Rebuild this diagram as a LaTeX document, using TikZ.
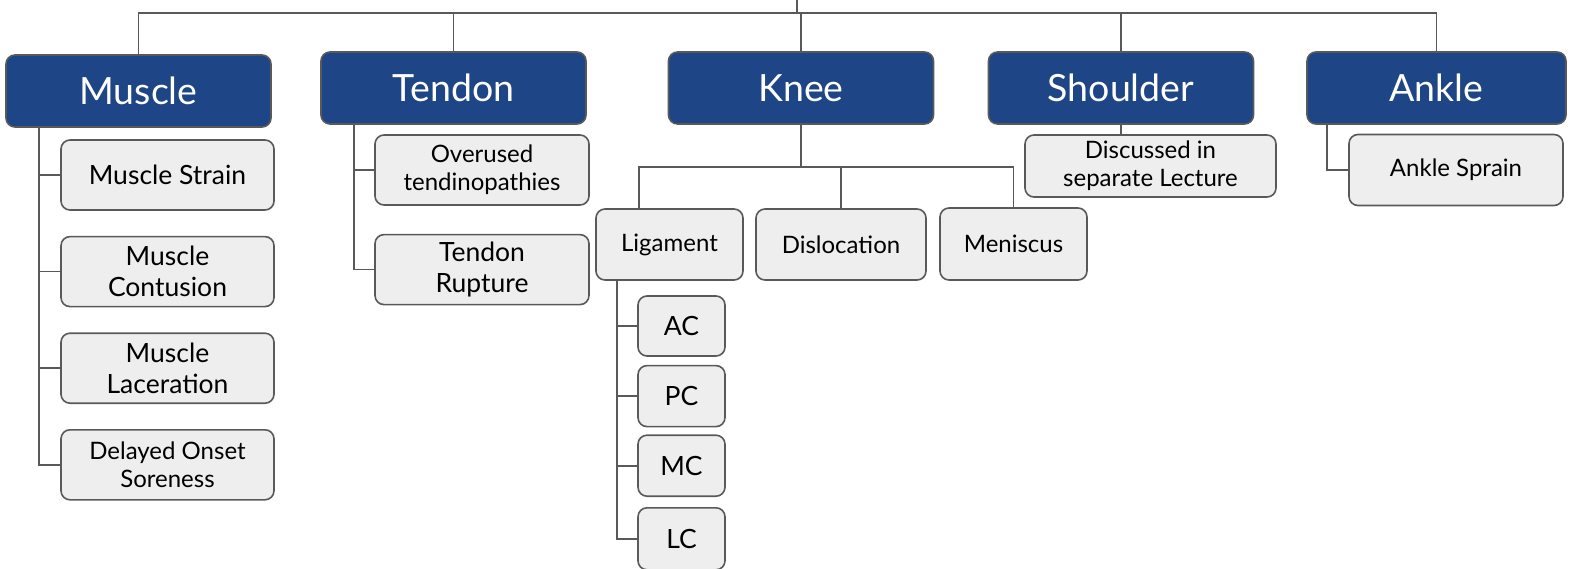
\documentclass[tikz,border=0pt]{standalone}
\usepackage{fontspec}
\setmainfont{Lato}
\usepackage{tikz}
\usetikzlibrary{calc,positioning}

\definecolor{hdrblue}{HTML}{1E4586}
\definecolor{boxgray}{HTML}{EEEEEE}
\definecolor{linegray}{HTML}{595959}

\begin{document}
\begin{tikzpicture}[x=1pt,y=-1pt,
  cat/.style={draw=linegray,line width=1.6pt,fill=hdrblue,rounded corners=9pt,text=white,
    minimum width=265pt,minimum height=72pt,inner sep=0pt,font=\fontsize{37.5}{40}\selectfont},
  item/.style={draw=linegray,line width=1.6pt,fill=boxgray,rounded corners=9pt,align=center,
    minimum width=213pt,minimum height=70pt,inner sep=0pt,font=\fontsize{26.5}{31}\selectfont},
  small/.style={font=\fontsize{24}{28}\selectfont},
  link/.style={draw=linegray,line width=1.6pt}]
	\useasboundingbox (0,0) rectangle (1571,568);
	% top level
	\node[cat] (muscle) at (138.5,91) {Muscle};
	\node[cat] (tendon) at (453.5,88) {Tendon};
	\node[cat] (knee) at (801,88) {Knee};
	\node[cat] (shoulder) at (1121,88) {Shoulder};
	\node[cat,minimum width=259pt] (ankle) at (1436.5,88) {Ankle};
	
	% muscle
	\node[item] (mstrain) at (167.5,175) {Muscle Strain};
	\node[item,below=25pt of mstrain] (mcont) {Muscle\\Contusion};
	\node[item,below=25pt of mcont] (mlac) {Muscle\\Laceration};
	\node[item,small,below=25pt of mlac] (doms) {Delayed Onset\\Soreness};
	
	% tendon
	\node[item,small,minimum width=214pt] (overuse) at (482,170) {Overused\\tendinopathies};
	\node[item,minimum width=214pt,below=28pt of overuse] (rupture) {Tendon\\Rupture};
	
	% knee
	\node[item,small,minimum width=147pt,minimum height=71pt] (lig) at (669.5,244.5) {Ligament};
	\node[item,small,minimum width=170pt,minimum height=71pt] (disl) at (841,244.5) {Dislocation};
	\node[item,small,minimum width=147pt,minimum height=72pt] (men) at (1013.5,244) {Meniscus};
	\node[item,minimum width=87pt,minimum height=60pt] (ac) at (681.5,326) {AC};
	\node[item,minimum width=87pt,minimum height=61pt,below=8pt of ac] (pc) {PC};
	\node[item,minimum width=87pt,minimum height=61pt,below=7pt of pc] (mc) {MC};
	\node[item,minimum width=87pt,minimum height=62pt,below=10pt of mc] (lc) {LC};
	
	% shoulder, ankle
	\node[item,small,minimum width=251pt,minimum height=62pt] (disc) at (1150.5,166) {Discussed in\\separate Lecture};
	\node[item,small,minimum width=214pt,minimum height=71pt] (sprain) at (1456,170) {Ankle Sprain};
	
	% connectors
	\coordinate (top) at (797,0);
	\coordinate (bus) at (797,13);
	\coordinate (kbus) at (801,167);
	\draw[link] (top) -- (bus);
	\draw[link] (muscle.north) |- (bus);
	\draw[link] (ankle.north) |- (bus);
	\draw[link] (tendon.north) -- (tendon.north |- bus);
	\draw[link] (knee.north) -- (knee.north |- bus);
	\draw[link] (shoulder.north) -- (shoulder.north |- bus);
	
	\foreach \n in {mstrain,mcont,mlac,doms}
		\draw[link] ([xshift=34pt]muscle.south west) |- (\n.west);
	\foreach \n in {overuse,rupture}
		\draw[link] ([xshift=34pt]tendon.south west) |- (\n.west);
	\draw[link] ([xshift=21pt]ankle.south west) |- (sprain.west);
	\draw[link] (shoulder.south) -- (shoulder.south |- disc.north);
	
	\draw[link] (knee.south) -- (kbus);
	\draw[link] ([xshift=44pt]lig.north west) |- (kbus);
	\draw[link] (men.north) |- (kbus);
	\draw[link] (disl.north) -- (disl.north |- kbus);
	\foreach \n in {ac,pc,mc,lc}
		\draw[link] ([xshift=22pt]lig.south west) |- (\n.west);
\end{tikzpicture}
\end{document}
